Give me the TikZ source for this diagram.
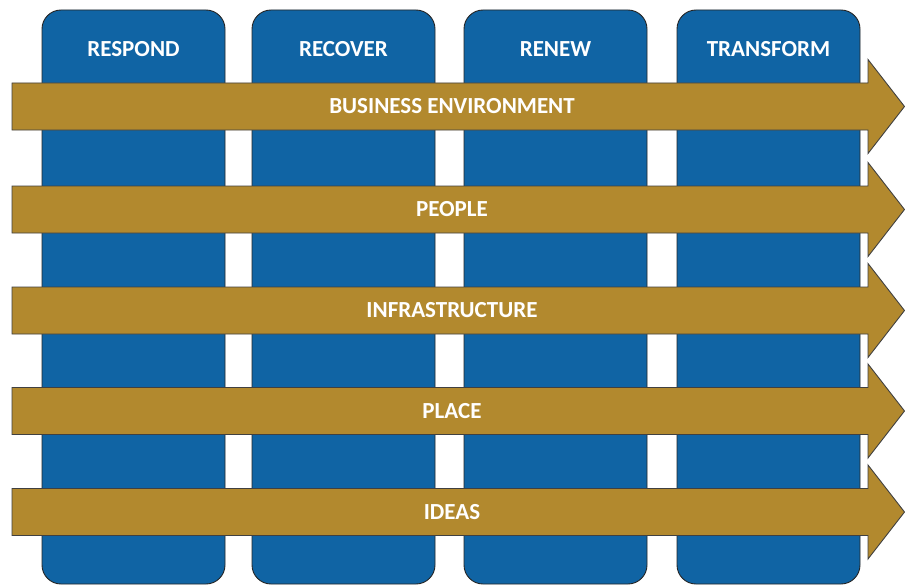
\documentclass[tikz,border=0pt]{standalone}
\usepackage{fontspec}
\setmainfont{Carlito}
\definecolor{colblue}{HTML}{1064A4}
\definecolor{arrgold}{HTML}{B2892E}
\begin{document}
\begin{tikzpicture}[x=1pt,y=-1pt,
  colbox/.style={draw=black!85,line width=0.9pt,fill=colblue,rounded corners=19pt},
  bigarrow/.style={draw=black!75,line width=0.9pt,fill=arrgold},
  lbl/.style={text=white,font=\bfseries\fontsize{23}{25}\selectfont,inner sep=0pt}]
\useasboundingbox (0,0) rectangle (905,586);
\fill[white] (0,0) rectangle (905,586);
% columns
\foreach \x/\n/\t in {42/c1/RESPOND,252/c2/RECOVER,464/c3/RENEW,677/c4/TRANSFORM}{
  \draw[colbox] (\x,10) rectangle ++(183,574);
  \node[lbl] (\n) at (\x+91.5,49.5) {\t};
}
% arrows
\foreach \y/\n/\t in {106.5/a1/BUSINESS ENVIRONMENT,209.5/a2/PEOPLE,310.5/a3/INFRASTRUCTURE,411/a4/PLACE,512/a5/IDEAS}{
  \draw[bigarrow] (12,\y-23.5) -- (868,\y-23.5) -- (868,\y-47) -- (904.5,\y) -- (868,\y+47) -- (868,\y+23.5) -- (12,\y+23.5) -- cycle;
  \node[lbl] (\n) at (452,\y) {\t};
}
\end{tikzpicture}
\end{document}
